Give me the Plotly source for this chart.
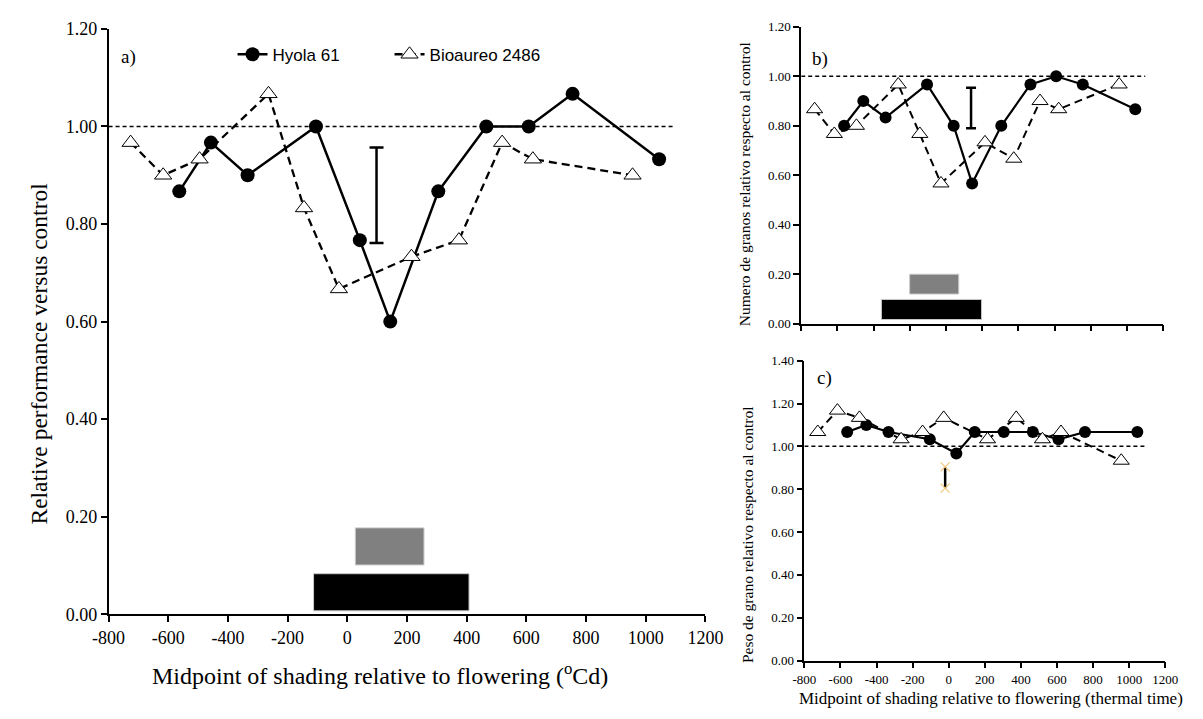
import plotly.graph_objects as go

# Shading midpoints relative to flowering (thermal time, degree-days)
hyola_x = [-563, -457, -334, -105, 42, 144, 305, 466, 608, 755, 1045]
bio_x = [-726, -617, -495, -264, -145, -28, 215, 374, 519, 622, 956]

# a) relative performance (yield) versus control
a_hyola = [0.867, 0.967, 0.900, 1.000, 0.767, 0.600, 0.867, 1.000, 1.000, 1.067, 0.933]
a_bio = [0.967, 0.900, 0.933, 1.067, 0.833, 0.667, 0.733, 0.767, 0.967, 0.933, 0.900]

# b) grain number relative to control
b_hyola = [0.800, 0.900, 0.833, 0.967, 0.800, 0.567, 0.800, 0.967, 1.000, 0.967, 0.867]
b_bio = [0.867, 0.767, 0.800, 0.967, 0.767, 0.567, 0.733, 0.667, 0.900, 0.867, 0.967]

# c) grain weight relative to control
c_hyola = [1.067, 1.100, 1.067, 1.033, 0.967, 1.067, 1.067, 1.067, 1.033, 1.067, 1.067]
c_bio = [1.067, 1.167, 1.133, 1.033, 1.067, 1.133, 1.033, 1.133, 1.033, 1.067, 0.933]

# LSD bars: position, lower and upper ends
err_x = [98, 138, -20]
err_lo = [0.761, 0.790, 0.805]
err_hi = [0.957, 0.954, 0.904]

# Critical-period bars per panel (a, b): start, end, bottom, top
grey_x0 = [27, -201]
grey_x1 = [257, 70]
grey_y0 = [0.101, 0.120]
grey_y1 = [0.177, 0.200]
black_x0 = [-113, -357]
black_x1 = [408, 196]
black_y0 = [0.007, 0.017]
black_y1 = [0.083, 0.098]

# Control reference line
ref_x = [-800, 1100]
ref_y = [1.0, 1.0]

x_ticks = [-800, -600, -400, -200, 0, 200, 400, 600, 800, 1000, 1200]
x_tick_labels = ["-800", "-600", "-400", "-200", "0", "200", "400", "600",
                 "800", "1000", "1200"]
panel_y_max = [1.2, 1.2, 1.4]

W, H = 1203, 719
SERIF = "Liberation Serif, Times New Roman, serif"
SANS = "Liberation Sans, Arial, sans-serif"


def px(v):
    return v / W


def py(v):
    return 1 - v / H


fig = go.Figure()

panels = [
    ("x", "y", a_hyola, a_bio, 14, 15, 2.5, 2.3),
    ("x2", "y2", b_hyola, b_bio, 12, 14, 2.2, 2.0),
    ("x3", "y3", c_hyola, c_bio, 12, 14, 2.2, 2.0),
]

for i, (xa, ya, hy, bi, msz, tsz, lw_h, lw_b) in enumerate(panels):
    # 1.00 reference
    fig.add_trace(go.Scatter(
        x=ref_x, y=ref_y, xaxis=xa, yaxis=ya, mode="lines",
        line=dict(color="black", width=1.5, dash="4px,3px"),
        showlegend=False, hoverinfo="skip"))
    fig.add_trace(go.Scatter(
        x=hyola_x, y=hy, xaxis=xa, yaxis=ya, mode="lines+markers",
        name="Hyola 61", legendgroup="h", showlegend=(i == 0),
        line=dict(color="black", width=lw_h),
        marker=dict(symbol="circle", size=msz, color="black")))
    fig.add_trace(go.Scatter(
        x=bio_x, y=bi, xaxis=xa, yaxis=ya, mode="lines+markers",
        name="Bioaureo 2486", legendgroup="b", showlegend=(i == 0),
        line=dict(color="black", width=lw_b, dash="8px,5px"),
        marker=dict(symbol="triangle-up", size=tsz, color="white",
                    line=dict(color="black", width=1))))
    # LSD bar
    mid = (err_lo[i] + err_hi[i]) / 2
    half = (err_hi[i] - err_lo[i]) / 2
    fig.add_trace(go.Scatter(
        x=[err_x[i]], y=[mid], xaxis=xa, yaxis=ya, mode="markers",
        marker=dict(size=1, color="rgba(0,0,0,0)"),
        error_y=dict(type="data", array=[half], symmetric=True,
                     color="black", thickness=2.5,
                     width=7 if i == 0 else (5 if i == 1 else 0)),
        showlegend=False, hoverinfo="skip"))

# small orange end marks on the grain-weight LSD bar
fig.add_trace(go.Scatter(
    x=[err_x[2], err_x[2]], y=[err_lo[2], err_hi[2]], xaxis="x3", yaxis="y3",
    mode="markers", marker=dict(symbol="x-thin-open", size=9, color="#f3c77a",
                                line=dict(color="#f3c77a", width=1.2)),
    showlegend=False, hoverinfo="skip"))

# critical-period bars
shapes = []
for i, (xr, yr) in enumerate([("x", "y"), ("x2", "y2")]):
    shapes.append(dict(type="rect", xref=xr, yref=yr,
                       x0=grey_x0[i], x1=grey_x1[i], y0=grey_y0[i], y1=grey_y1[i],
                       fillcolor="#808080", line=dict(color="#c8c8c8", width=1),
                       layer="below"))
    shapes.append(dict(type="rect", xref=xr, yref=yr,
                       x0=black_x0[i], x1=black_x1[i], y0=black_y0[i], y1=black_y1[i],
                       fillcolor="black", line=dict(color="#c8c8c8", width=1),
                       layer="below"))

axis_common = dict(showgrid=False, zeroline=False, showline=True,
                   linecolor="black", linewidth=1.5, ticks="outside",
                   ticklen=6, tickwidth=1.5, tickcolor="black")

layout = dict(
    width=W, height=H, margin=dict(l=0, r=0, t=0, b=0),
    paper_bgcolor="white", plot_bgcolor="white",
    showlegend=True,
    legend=dict(orientation="h", x=px(222), y=py(46), xanchor="left",
                yanchor="middle", bgcolor="rgba(0,0,0,0)",
                font=dict(family=SANS, size=17, color="black"),
                entrywidth=112, tracegroupgap=0),
    xaxis=dict(domain=[px(94.3), px(709)], range=[-800, 1200], anchor="y",
               tickvals=x_ticks, ticktext=x_tick_labels,
               tickfont=dict(family=SERIF, size=18, color="black"), **axis_common),
    yaxis=dict(domain=[py(621.5), py(19.5)], range=[0, panel_y_max[0]], anchor="x",
               dtick=0.2, tick0=0, tickformat=".2f",
               tickfont=dict(family=SERIF, size=18, color="black"), **axis_common),
    xaxis2=dict(domain=[px(807.7), px(1180.7)], range=[-800, 1200], anchor="y2",
                tickvals=x_ticks, showticklabels=False, **axis_common),
    yaxis2=dict(domain=[py(322.7), py(17.3)], range=[0, panel_y_max[1]], anchor="x2",
                dtick=0.2, tick0=0, tickformat=".2f",
                tickfont=dict(family=SERIF, size=13, color="black"), **axis_common),
    xaxis3=dict(domain=[px(811), px(1182.7)], range=[-800, 1200], anchor="y3",
                tickvals=x_ticks, ticktext=x_tick_labels,
                tickfont=dict(family=SERIF, size=13, color="black"), **axis_common),
    yaxis3=dict(domain=[py(669.2), py(360.7)], range=[0, panel_y_max[2]], anchor="x3",
                dtick=0.2, tick0=0, tickformat=".2f",
                tickfont=dict(family=SERIF, size=13, color="black"), **axis_common),
    shapes=shapes,
)

ann = [
    dict(text="a)", x=px(115), y=py(48), size=19),
    dict(text="b)", x=px(827), y=py(50), size=19),
    dict(text="c)", x=px(832), y=py(379), size=19),
    dict(text="Midpoint of shading relative to flowering (<sup>o</sup>Cd)",
         x=px(374), y=py(683), size=24),
    dict(text="Relative performance versus control", x=px(23), y=py(353),
         size=23.5, angle=-90),
    dict(text="Numero de granos relativo respecto al control", x=px(749),
         y=py(179), size=15.5, angle=-90),
    dict(text="Peso de grano relativo respecto al control", x=px(753),
         y=py(540), size=15.5, angle=-90),
    dict(text="Midpoint of shading relative to flowering (thermal time)",
         x=px(1003), y=py(708), size=17),
]
annotations = []
for a in ann:
    annotations.append(dict(
        text=a["text"], x=a["x"], y=a["y"], xref="paper", yref="paper",
        xanchor="center", yanchor="middle", showarrow=False,
        textangle=a.get("angle", 0),
        font=dict(family=SERIF, size=a["size"], color="black")))
layout["annotations"] = annotations

fig.update_layout(**layout)
fig.write_html("out.html")
